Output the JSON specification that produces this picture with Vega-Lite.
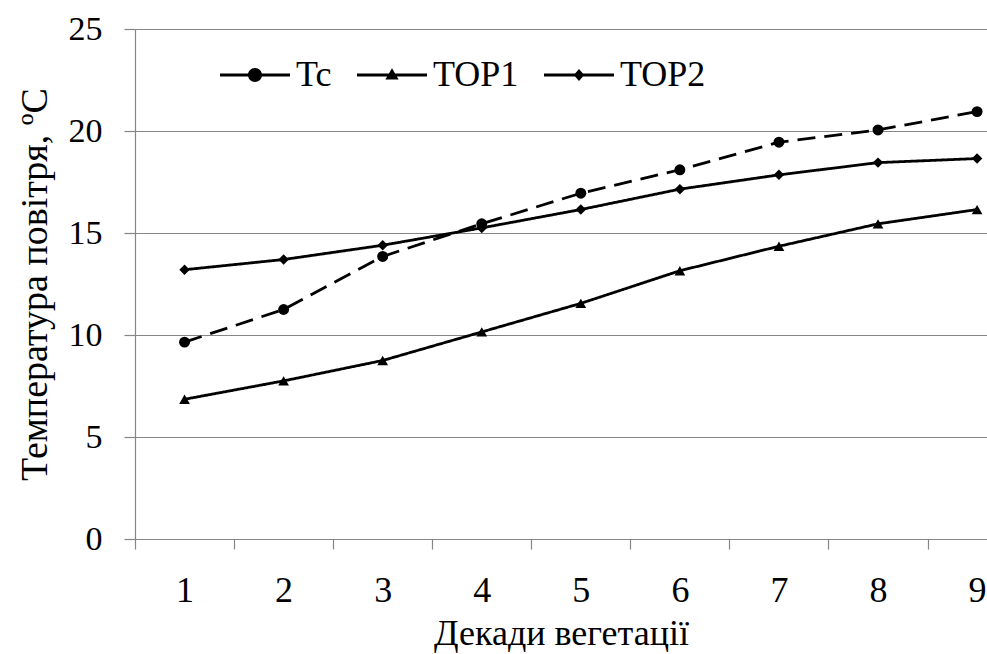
{
  "$schema": "https://vega.github.io/schema/vega-lite/v6.json",
  "width": 852,
  "height": 510,
  "autosize": {"type": "none"},
  "padding": {"left": 135, "top": 29, "right": 0, "bottom": 115},
  "background": "white",
  "config": {
    "font": "Liberation Serif",
    "view": {"stroke": null},
    "axis": {
      "labelFont": "Liberation Serif",
      "titleFont": "Liberation Serif",
      "labelFontSize": 34,
      "titleFontSize": 35,
      "titleFontWeight": "normal",
      "labelColor": "black",
      "titleColor": "black",
      "domainColor": "#868686",
      "gridColor": "#868686",
      "domainWidth": 1.2,
      "gridWidth": 1.2,
      "tickWidth": 1.2
    }
  },
  "data": {
    "values": [
      {"decade": 1, "series": "Tc", "value": 9.65},
      {"decade": 2, "series": "Tc", "value": 11.25},
      {"decade": 3, "series": "Tc", "value": 13.85},
      {"decade": 4, "series": "Tc", "value": 15.45},
      {"decade": 5, "series": "Tc", "value": 16.95},
      {"decade": 6, "series": "Tc", "value": 18.1},
      {"decade": 7, "series": "Tc", "value": 19.45},
      {"decade": 8, "series": "Tc", "value": 20.05},
      {"decade": 9, "series": "Tc", "value": 20.95},
      {"decade": 1, "series": "TOP1", "value": 6.85},
      {"decade": 2, "series": "TOP1", "value": 7.75},
      {"decade": 3, "series": "TOP1", "value": 8.75},
      {"decade": 4, "series": "TOP1", "value": 10.15},
      {"decade": 5, "series": "TOP1", "value": 11.55},
      {"decade": 6, "series": "TOP1", "value": 13.15},
      {"decade": 7, "series": "TOP1", "value": 14.35},
      {"decade": 8, "series": "TOP1", "value": 15.45},
      {"decade": 9, "series": "TOP1", "value": 16.15},
      {"decade": 1, "series": "TOP2", "value": 13.2},
      {"decade": 2, "series": "TOP2", "value": 13.7},
      {"decade": 3, "series": "TOP2", "value": 14.4},
      {"decade": 4, "series": "TOP2", "value": 15.25},
      {"decade": 5, "series": "TOP2", "value": 16.15},
      {"decade": 6, "series": "TOP2", "value": 17.15},
      {"decade": 7, "series": "TOP2", "value": 17.85},
      {"decade": 8, "series": "TOP2", "value": 18.45},
      {"decade": 9, "series": "TOP2", "value": 18.65}
    ]
  },
  "encoding": {
    "x": {
      "field": "decade",
      "type": "quantitative",
      "scale": {"domain": [0.5, 9.1], "nice": false, "zero": false},
      "axis": {
        "values": [0.5, 1, 1.5, 2, 2.5, 3, 3.5, 4, 4.5, 5, 5.5, 6, 6.5, 7, 7.5, 8, 8.5, 9],
        "labelExpr": "datum.value % 1 === 0 ? format(datum.value, 'd') : ''",
        "labelOverlap": false,
        "labelFlush": false,
        "labelBound": false,
        "labelFontSize": 36,
        "grid": false,
        "tickSize": 10,
        "tickColor": {"condition": {"test": "datum.value % 1 === 0", "value": "transparent"}, "value": "#868686"},
        "labelPadding": 24,
        "title": "Декади вегетації",
        "titleFontSize": 36,
        "titlePadding": 8
      }
    },
    "y": {
      "field": "value",
      "type": "quantitative",
      "scale": {"domain": [0, 25], "nice": false},
      "axis": {
        "values": [0, 5, 10, 15, 20, 25],
        "grid": true,
        "tickSize": 11,
        "tickColor": "#868686",
        "labelPadding": 22,
        "title": "Температура повітря, ºC",
        "titleFontSize": 38,
        "titlePadding": 14
      }
    }
  },
  "layer": [
    {
      "mark": {"type": "line", "color": "black", "strokeWidth": 2.8, "clip": false},
      "encoding": {
        "detail": {"field": "series"},
        "strokeDash": {
          "field": "series",
          "scale": {"domain": ["Tc", "TOP1", "TOP2"], "range": [[18, 9], [1, 0], [1, 0]]},
          "legend": null
        }
      }
    },
    {
      "mark": {"type": "point", "filled": true, "color": "black", "opacity": 1, "clip": false},
      "encoding": {
        "shape": {
          "field": "series",
          "scale": {"domain": ["Tc", "TOP1", "TOP2"], "range": ["circle", "triangle-up", "diamond"]},
          "legend": null
        },
        "size": {
          "field": "series",
          "scale": {"domain": ["Tc", "TOP1", "TOP2"], "range": [120, 110, 90]},
          "legend": null
        }
      }
    },
    {
      "transform": [{"filter": "datum.value > 1000"}],
      "mark": {"type": "point", "filled": true, "color": "black", "opacity": 1},
      "encoding": {
        "shape": {
          "field": "series",
          "scale": {
            "domain": ["Tc", "TOP1", "TOP2"],
            "range": [
              "M-1,-0.04L1,-0.04L1,0.04L-1,0.04ZM0.2,0A0.2,0.2,0,1,1,-0.2,0A0.2,0.2,0,1,1,0.2,0Z",
              "M-1,-0.04L1,-0.04L1,0.04L-1,0.04ZM-0.19,0.13L0,-0.19L0.19,0.13Z",
              "M-1,-0.04L1,-0.04L1,0.04L-1,0.04ZM0,-0.17L0.15,0L0,0.17L-0.15,0Z"
            ]
          },
          "legend": {
            "title": null,
            "orient": "none",
            "legendX": 85,
            "legendY": 11,
            "direction": "horizontal",
            "padding": 0,
            "symbolSize": 4900,
            "symbolFillColor": "black",
            "symbolStrokeColor": "black",
            "symbolStrokeWidth": 0,
            "labelFont": "Liberation Serif",
            "labelFontSize": 36,
            "labelColor": "black",
            "labelOffset": 6,
            "columnPadding": 25,
            "encode": {
              "symbols": {
                "update": {
                  "fill": {"value": "black"},
                  "opacity": {"value": 1}
                }
              }
            }
          }
        }
      }
    }
  ],
  "resolve": {"scale": {"shape": "independent"}}
}
